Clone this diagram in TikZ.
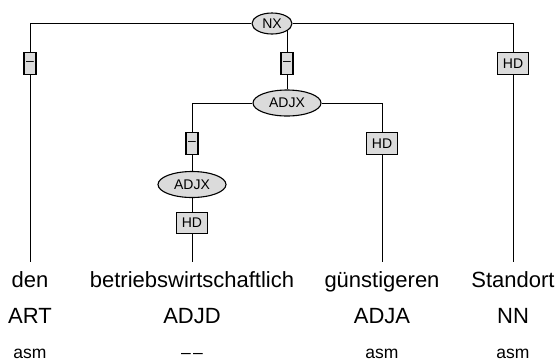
\documentclass[tikz,border=0pt]{standalone}
\usepackage{fontspec}
\setmainfont{Liberation Sans}
\usetikzlibrary{shapes.geometric}
\usetikzlibrary{backgrounds}

\begin{document}
\begin{tikzpicture}[x=1pt, y=-1pt, line width=1.1pt,
    cat/.style = {draw, ellipse, fill=black!14, inner sep=0pt, font=\fontsize{14}{14}\selectfont},
    lab/.style = {draw, rectangle, fill=black!14, inner sep=0pt, minimum height=21.6pt, font=\fontsize{14}{14}\selectfont},
    word/.style = {anchor=base, inner ysep=7.5pt, text height=17pt, text depth=5pt, font=\fontsize{22}{22}\selectfont},
    tag/.style = {anchor=base, font=\fontsize{22}{22}\selectfont},
    morph/.style = {anchor=base, font=\fontsize{17.5}{17.5}\selectfont}]
        \useasboundingbox (0,0) rectangle (560,362);
        % phrase nodes
        \node[cat, minimum width=40pt, minimum height=21pt] (1) at (272,23.5) {NX};
        \node[cat, minimum width=68pt, minimum height=26pt] (2) at (287,103) {ADJX};
        \node[cat, minimum width=68pt, minimum height=26pt] (3) at (192,184.5) {ADJX};
        % edge labels
        \node[lab, minimum width=12pt] (4) at (30,63.5) {–};
        \node[lab, minimum width=12pt] (5) at (287,63.5) {–};
        \node[lab, minimum width=31pt] (6) at (513,63.5) {HD};
        \node[lab, minimum width=12pt] (7) at (192,143.5) {–};
        \node[lab, minimum width=31pt] (8) at (382,143.5) {HD};
        \node[lab, minimum width=31pt] (9) at (192,223) {HD};
        % terminals
        \node[word] (w1) at (30,287.3) {den};
        \node[word] (w2) at (192,287.3) {betriebswirtschaftlich};
        \node[word] (w3) at (382,287.3) {günstigeren};
        \node[word] (w4) at (513,287.3) {Standort};
        \node[tag] (t1) at (30,323.3) {ART};
        \node[tag] (t2) at (192,323.3) {ADJD};
        \node[tag] (t3) at (382,323.3) {ADJA};
        \node[tag] (t4) at (513,323.3) {NN};
        \node[morph] (m1) at (30,358.3) {asm};
        \node[morph] (m2) at (192,358.3) {\textendash\kern2.5pt\textendash};
        \node[morph] (m3) at (382,358.3) {asm};
        \node[morph] (m4) at (513,358.3) {asm};
        \begin{scope}[on background layer]
            \draw (1) -| (4);
            \draw (1) -| (6);
            \draw (5) -- (5 |- 1);
            \draw (5) -- (2);
            \draw (2) -| (7);
            \draw (2) -| (8);
            \draw (7) -- (3);
            \draw (3) -- (9);
            \draw (4) -- (w1);
            \draw (9) -- (w2);
            \draw (8) -- (w3);
            \draw (6) -- (w4);
        \end{scope}
\end{tikzpicture}
\end{document}
